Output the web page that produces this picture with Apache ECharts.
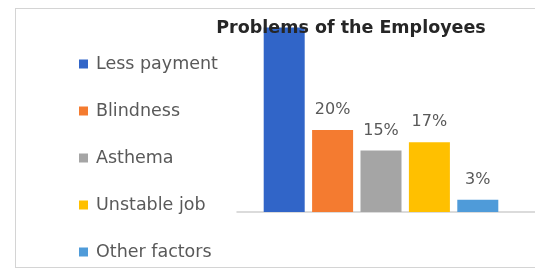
<!DOCTYPE html>
<html>
<head>
<meta charset="utf-8">
<script src="https://cdn.jsdelivr.net/npm/echarts@6/dist/echarts.min.js"></script>
<style>
  html, body { margin: 0; padding: 0; background: #fff; overflow: hidden; }
  #frame { position: absolute; left: 15px; top: 8px; width: 600px; height: 258px; border: 1px solid #d4d4d4; border-right: none; }
  #chart { position: absolute; left: 0; top: 0; width: 535px; height: 275px; }
</style>
</head>
<body>
<div id="frame"></div>
<div id="chart"></div>
<script>
const categories = ["Less payment", "Blindness", "Asthema", "Unstable job", "Other factors"];
const values = [45, 20, 15, 17, 3];
const colors = ["#3165c8", "#f47b30", "#a5a5a5", "#ffc000", "#4f9bd9"];

const chart = echarts.init(document.getElementById("chart"));

// one series per category so the legend lists each problem
const series = categories.map((name, i) => ({
  name,
  type: "bar",
  xAxisIndex: 0,
  yAxisIndex: 0,
  barWidth: 41,
  barGap: "-100%",
  itemStyle: { color: colors[i] },
  label: {
    // the tallest bar's label is cut off in the original
    show: values[i] < Math.max(...values),
    position: "top",
    distance: 12,
    formatter: "{c}%",
    color: "#595959",
    fontFamily: "DejaVu Sans",
    fontSize: 16,
  },
  data: categories.map((_, j) => (j === i ? values[i] : null)),
}));

chart.setOption({
  animation: false,
  title: {
    text: "Problems of the Employees",
    left: 346,
    top: 14,
    textAlign: "center",
    textStyle: { fontFamily: "DejaVu Sans", fontWeight: "bold", fontSize: 17.5, color: "#262626" },
  },
  legend: {
    orient: "vertical",
    left: 74,
    top: 49,
    icon: "rect",
    itemWidth: 9,
    itemHeight: 9,
    itemGap: 27,
    data: categories,
    textStyle: {
      fontFamily: "DejaVu Sans",
      fontSize: 17.5,
      color: "#595959",
      lineHeight: 20,
      padding: [0, 0, 0, 3],
    },
  },
  grid: [
    { left: 260, right: 33, top: 27.5, bottom: 63 },
    { left: 237, right: 0, top: 27.5, bottom: 63 },
  ],
  xAxis: [
    {
      type: "category",
      gridIndex: 0,
      data: categories,
      axisLine: { show: false },
      axisTick: { show: false },
      axisLabel: { show: false },
    },
    {
      type: "value",
      gridIndex: 1,
      axisLine: { show: true, lineStyle: { color: "#d0d0d0", width: 1.5 } },
      axisTick: { show: false },
      axisLabel: { show: false },
      splitLine: { show: false },
    },
  ],
  yAxis: [
    { type: "value", gridIndex: 0, min: 0, max: 45, show: false },
    { type: "value", gridIndex: 1, min: 0, max: 45, show: false },
  ],
  series,
});
</script>
</body>
</html>
